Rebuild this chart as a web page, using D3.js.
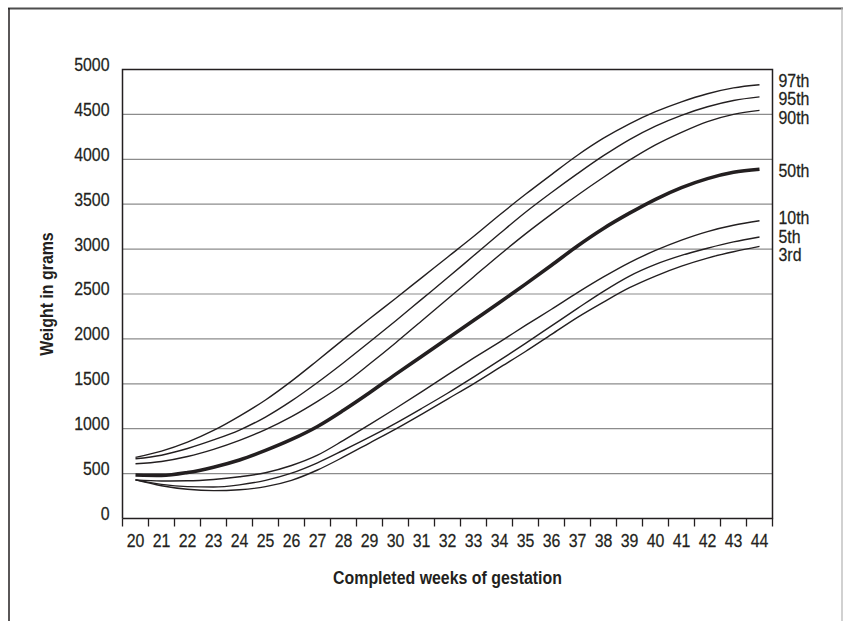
<!DOCTYPE html>
<html>
<head>
<meta charset="utf-8">
<script src="https://cdn.jsdelivr.net/npm/d3@7"></script>
<style>
body { margin: 0; background: #fff; }
svg { display: block; }
text { font-family: "Liberation Sans", Arial, sans-serif; fill: #231f20; }
.narrow { transform-box: fill-box; transform: scaleX(0.86); }
.reg { stroke: #231f20; stroke-width: 0.25px; }
.nl { transform-origin: left center; }
.nr { transform-origin: right center; }
.nc { transform-origin: center center; }
</style>
</head>
<body>
<svg width="843" height="621"></svg>
<script>
var weeks = [20, 21, 22, 23, 24, 25, 26, 27, 28, 29, 30, 31, 32, 33, 34, 35, 36, 37, 38, 39, 40, 41, 42, 43, 44]
var yTicks = [0, 500, 1000, 1500, 2000, 2500, 3000, 3500, 4000, 4500, 5000]

var p97 = [680, 750, 850, 980, 1140, 1320, 1530, 1760, 1995, 2225, 2450, 2680, 2910, 3140, 3380, 3610, 3830, 4045, 4235, 4395, 4530, 4640, 4730, 4795, 4830]
var p95 = [665, 705, 780, 875, 985, 1130, 1310, 1515, 1735, 1965, 2200, 2440, 2680, 2925, 3170, 3410, 3630, 3840, 4040, 4220, 4370, 4490, 4585, 4655, 4695]
var p90 = [610, 635, 690, 770, 870, 990, 1135, 1305, 1495, 1720, 1955, 2200, 2445, 2690, 2935, 3170, 3390, 3600, 3800, 3990, 4160, 4300, 4420, 4500, 4545]
var p50 = [485, 480, 512, 572, 652, 758, 880, 1025, 1205, 1400, 1605, 1805, 2005, 2205, 2405, 2610, 2820, 3035, 3230, 3400, 3555, 3685, 3785, 3855, 3890]
var p10 = [430, 418, 420, 435, 465, 510, 590, 705, 870, 1045, 1225, 1410, 1600, 1785, 1965, 2150, 2330, 2515, 2690, 2850, 2985, 3100, 3195, 3265, 3315]
var p05 = [430, 380, 355, 350, 375, 425, 505, 620, 760, 905, 1060, 1225, 1395, 1575, 1760, 1950, 2145, 2340, 2530, 2700, 2830, 2930, 3010, 3080, 3135]
var p03 = [430, 365, 325, 310, 320, 355, 425, 540, 685, 840, 995, 1160, 1330, 1500, 1680, 1860, 2050, 2240, 2410, 2570, 2700, 2810, 2900, 2970, 3030]

var seriesNames = ["97th", "95th", "90th", "50th", "10th", "5th", "3rd"]
var seriesValues = [p97, p95, p90, p50, p10, p05, p03]

var svg = d3.select("svg"),
    margin = {top: 69.5, left: 122.5},
    width = 650,
    height = 449;

// outer frame (open at the bottom)
svg.append("line").attr("x1", 8).attr("x2", 843).attr("y1", 8.5).attr("y2", 8.5)
    .attr("stroke", "#4d4d4d").attr("stroke-width", 2);
svg.append("line").attr("x1", 9).attr("x2", 9).attr("y1", 8).attr("y2", 621)
    .attr("stroke", "#231f20").attr("stroke-width", 1.5);
svg.append("line").attr("x1", 842).attr("x2", 842).attr("y1", 8).attr("y2", 621)
    .attr("stroke", "#b3b3b3").attr("stroke-width", 1.2);

var xScale = d3.scaleBand().domain(weeks).range([0, width]),
    yScale = d3.scaleLinear().domain([0, 5000]).range([height, 0]);

var g = svg.append("g")
    .attr("transform", "translate(" + margin.left + "," + margin.top + ")");

// grid lines
g.selectAll(".grid")
    .data(yTicks.slice(1, -1))
    .enter().append("line")
    .attr("x1", 0).attr("x2", width)
    .attr("y1", function (d) { return yScale(d); })
    .attr("y2", function (d) { return yScale(d); })
    .attr("stroke", "#8c8c8c").attr("stroke-width", 1.2);

// plot box: top, left, right and the x axis
g.append("path")
    .attr("d", "M0," + height + "V0H" + width + "V" + height + "H0")
    .attr("fill", "none").attr("stroke", "#231f20").attr("stroke-width", 1.5);

// y labels
var yAxis = g.append("g")
    .call(d3.axisLeft(yScale).tickValues(yTicks).tickFormat(d3.format("d")).tickSize(0).tickPadding(13));
yAxis.select(".domain").remove();
yAxis.selectAll("text")
    .attr("class", "narrow nr reg")
    .attr("dy", "0.05em")
    .style("font-size", "18.5px")
    .style("fill", "#231f20");

// x axis: ticks on band edges, labels in band centres
var edges = weeks.map(function (d) { return xScale(d); }).concat([width]);
g.selectAll(".xtick")
    .data(edges)
    .enter().append("line")
    .attr("x1", function (d) { return d; })
    .attr("x2", function (d) { return d; })
    .attr("y1", height).attr("y2", height + 8)
    .attr("stroke", "#231f20").attr("stroke-width", 1.3);

var xAxis = g.append("g")
    .attr("transform", "translate(0," + height + ")")
    .call(d3.axisBottom(xScale).tickSize(0).tickPadding(15));
xAxis.select(".domain").remove();
xAxis.selectAll("text")
    .attr("class", "narrow nc reg")
    .style("font-size", "18.5px")
    .style("fill", "#231f20");

// curves
var line = d3.line()
    .x(function (d, i) { return xScale(weeks[i]) + xScale.bandwidth() / 2; })
    .y(function (d) { return yScale(d); })
    .curve(d3.curveMonotoneX);

g.selectAll(".curve")
    .data(seriesValues)
    .enter().append("path")
    .attr("class", "curve")
    .attr("d", line)
    .attr("fill", "none")
    .attr("stroke", "#231f20")
    .attr("stroke-width", function (d, i) { return seriesNames[i] === "50th" ? 3.6 : 1.4; });

// right-hand labels, pushed apart where the curve ends crowd together
var labelY = seriesValues.map(function (d) { return yScale(d[d.length - 1]); });
for (var k = 0; k < 200; k++) {
    for (var i = 0; i < labelY.length - 1; i++) {
        var gap = labelY[i + 1] - labelY[i];
        if (gap < 18.6) {
            var shift = (18.6 - gap) / 2;
            labelY[i] -= shift;
            labelY[i + 1] += shift;
        }
    }
}
g.selectAll(".plabel")
    .data(seriesNames)
    .enter().append("text")
    .attr("class", "narrow nl reg")
    .attr("x", width + 6)
    .attr("y", function (d, i) { return labelY[i] + 1.5; })
    .attr("dy", "0.35em")
    .style("font-size", "18.5px")
    .text(function (d) { return d; });

// axis titles
svg.append("text")
    .attr("class", "narrow nc")
    .attr("x", margin.left + width / 2)
    .attr("y", 584)
    .attr("text-anchor", "middle")
    .style("font-size", "18.5px")
    .style("font-weight", "bold")
    .text("Completed weeks of gestation");

svg.append("g")
    .attr("transform", "translate(53," + (margin.top + height / 2) + ") rotate(-90)")
    .append("text")
    .attr("class", "narrow nc")
    .attr("text-anchor", "middle")
    .style("font-size", "18.5px")
    .style("font-weight", "bold")
    .text("Weight in grams");
</script>
</body>
</html>
